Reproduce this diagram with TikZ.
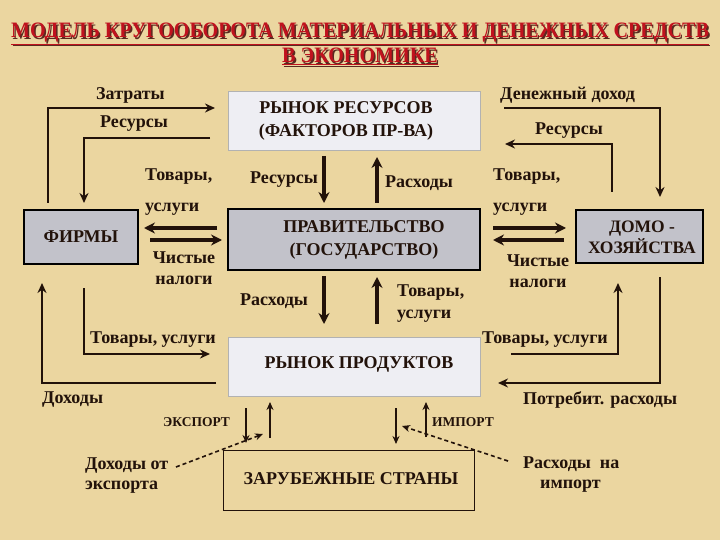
\documentclass[tikz,border=0pt]{standalone}
\usepackage{fontspec}
\setmainfont{Liberation Serif}
\usetikzlibrary{arrows.meta}
\definecolor{bg}{HTML}{EBD6A0}
\definecolor{ink}{HTML}{22120A}
\definecolor{titlered}{HTML}{C0121E}
\definecolor{titleshadow}{HTML}{5A2A20}
\definecolor{boxgray}{HTML}{C2C2CA}
\definecolor{boxlight}{HTML}{EEEEF3}
\begin{document}
\begin{tikzpicture}[x=1pt,y=-1pt,
  lbl/.style={font=\bfseries\fontsize{18}{20}\selectfont, text=ink, inner sep=0pt, anchor=west},
  slbl/.style={font=\bfseries\fontsize{13.5}{15}\selectfont, text=ink, inner sep=0pt, anchor=west},
  boxtxt/.style={font=\bfseries\fontsize{18}{23}\selectfont, text=ink, align=center, inner sep=0pt},
  graybox/.style={fill=boxgray, draw=black, line width=2.2pt, inner sep=0pt},
  lightbox/.style={fill=boxlight, draw=gray!60, line width=0.6pt, inner sep=0pt},
  openbox/.style={draw=ink, line width=1pt, inner sep=0pt},
  flow/.style={draw=ink, line width=2.4pt, -{Stealth[length=10pt,width=9pt]}},
  bigflow/.style={draw=ink, line width=3.6pt, -{Stealth[length=11pt,width=11pt]}},
  smallflow/.style={draw=ink, line width=1.8pt, -{Stealth[length=8pt,width=7pt]}},
  dotflow/.style={draw=ink, line width=1.6pt, dashed, dash pattern=on 4pt off 3pt, -{Stealth[length=8pt,width=7pt]}},
  titletxt/.style={font=\bfseries\fontsize{22}{25}\selectfont, align=center, inner sep=0pt},
]
\fill[bg] (0,0) rectangle (720,540);
\useasboundingbox (0,0) rectangle (720,540);

% title
\node[titletxt, text=titleshadow] at (361.5,45.5)
  {\scalebox{0.913}[1]{\underline{МОДЕЛЬ КРУГООБОРОТА МАТЕРИАЛЬНЫХ И ДЕНЕЖНЫХ СРЕДСТВ}}\\\scalebox{0.913}[1]{\underline{В ЭКОНОМИКЕ}}};
\node (title)[titletxt, text=titlered] at (360,44)
  {\scalebox{0.913}[1]{\underline{МОДЕЛЬ КРУГООБОРОТА МАТЕРИАЛЬНЫХ И ДЕНЕЖНЫХ СРЕДСТВ}}\\\scalebox{0.913}[1]{\underline{В ЭКОНОМИКЕ}}};

% boxes
\node (rr)[lightbox, minimum width=252pt, minimum height=59pt] at (354,120.5) {};
\node (rrt)[boxtxt] at (346,120.5) {РЫНОК РЕСУРСОВ\\(ФАКТОРОВ ПР-ВА)};
\node (firms)[graybox, minimum width=114pt, minimum height=54pt] at (81,237) {};
\node (firmst)[boxtxt] at (81,237) {ФИРМЫ};
\node (gov)[graybox, minimum width=252pt, minimum height=61pt] at (354,239.5) {};
\node (govt)[boxtxt] at (364,239.5) {ПРАВИТЕЛЬСТВО\\(ГОСУДАРСТВО)};
\node (hh)[graybox, minimum width=127pt, minimum height=53pt] at (639.5,236.5) {};
\node (hht)[boxtxt, font=\bfseries\fontsize{17.5}{21}\selectfont] at (642,237) {ДОМО -\\ХОЗЯЙСТВА};
\node (rp)[lightbox, minimum width=252pt, minimum height=59pt] at (354,366.5) {};
\node (rpt)[boxtxt] at (359,364) {РЫНОК ПРОДУКТОВ};
\node (fc)[openbox, minimum width=251pt, minimum height=60pt] at (348.5,480) {};
\node (fct)[boxtxt] at (351,479) {ЗАРУБЕЖНЫЕ СТРАНЫ};

% labels
\node (l1)[lbl] at (96,95) {Затраты};
\node (l2)[lbl] at (100,124) {Ресурсы};
\node (l3)[lbl] at (500,95) {Денежный доход};
\node (l4)[lbl] at (535,131) {Ресурсы};
\node (l5)[lbl] at (145,177) {Товары,};
\node (l6)[lbl] at (145,209) {услуги};
\node (l7)[lbl] at (493,177) {Товары,};
\node (l8)[lbl] at (493,209) {услуги};
\node (l9)[lbl] at (250,180) {Ресурсы};
\node (l10)[lbl] at (385,183) {Расходы};
\node (l11)[lbl, align=center, anchor=center, font=\bfseries\fontsize{18}{21}\selectfont] at (184,268) {Чистые\\налоги};
\node (l12)[lbl, align=center, anchor=center, font=\bfseries\fontsize{18}{21}\selectfont] at (538,271) {Чистые\\налоги};
\node (l13)[lbl] at (240,301) {Расходы};
\node (l14)[lbl] at (397,293) {Товары,};
\node (l15)[lbl] at (397,316) {услуги};
\node (l16)[lbl] at (90,340) {Товары, услуги};
\node (l17)[lbl] at (482,340) {Товары, услуги};
\node (l18)[lbl] at (42,400) {Доходы};
\node (l19)[lbl] at (523,400) {Потребит. расходы};
\node (l20)[slbl] at (163,422) {ЭКСПОРТ};
\node (l21)[slbl] at (432,422) {ИМПОРТ};
\node (l22)[lbl] at (85,466) {Доходы от};
\node (l23)[lbl] at (85,487) {экспорта};
\node (l24)[lbl] at (523,464) {Расходы\ \ на};
\node (l25)[lbl] at (540,486) {импорт};

% connector end points
\coordinate (a1) at (48,203);   \coordinate (a2) at (215,108);
\coordinate (b1) at (210,138);  \coordinate (b2) at (84,203);
\coordinate (c1) at (504,108);  \coordinate (c2) at (660,197);
\coordinate (d1) at (612,192);  \coordinate (d2) at (505,144);
\coordinate (e1) at (324,156);  \coordinate (e2) at (324,203);
\coordinate (f1) at (377,203);  \coordinate (f2) at (377,157);
\coordinate (g1) at (217,228);  \coordinate (g2) at (144,228);
\coordinate (h1) at (150,240);  \coordinate (h2) at (222,240);
\coordinate (i1) at (493,228);  \coordinate (i2) at (566,228);
\coordinate (j1) at (564,240);  \coordinate (j2) at (493,240);
\coordinate (k1) at (324,276);  \coordinate (k2) at (324,324);
\coordinate (m1) at (377,324);  \coordinate (m2) at (377,277);
\coordinate (n1) at (84,288);   \coordinate (n2) at (210,354);
\coordinate (o1) at (216,383);  \coordinate (o2) at (42,283);
\coordinate (p1) at (511,354);  \coordinate (p2) at (618,283);
\coordinate (q1) at (660,277);  \coordinate (q2) at (498,383);
\coordinate (r1) at (246,408);  \coordinate (r2) at (246,443);
\coordinate (s1) at (270,438);  \coordinate (s2) at (270,402);
\coordinate (t1) at (396,408);  \coordinate (t2) at (396,444);
\coordinate (u1) at (426,437);  \coordinate (u2) at (426,402);
\coordinate (v1) at (176,467);  \coordinate (v2) at (263,434);
\coordinate (w1) at (508,461);  \coordinate (w2) at (402,426);

% connectors
\draw[flow] (a1) |- (a2);
\draw[flow] (b1) -| (b2);
\draw[flow] (c1) -| (c2);
\draw[flow] (d1) |- (d2);
\draw[bigflow] (e1) -- (e2);
\draw[bigflow] (f1) -- (f2);
\draw[bigflow] (g1) -- (g2);
\draw[bigflow] (h1) -- (h2);
\draw[bigflow] (i1) -- (i2);
\draw[bigflow] (j1) -- (j2);
\draw[bigflow] (k1) -- (k2);
\draw[bigflow] (m1) -- (m2);
\draw[flow] (n1) |- (n2);
\draw[flow] (o1) -| (o2);
\draw[flow] (p1) -| (p2);
\draw[flow] (q1) |- (q2);
\draw[smallflow] (r1) -- (r2);
\draw[smallflow] (s1) -- (s2);
\draw[smallflow] (t1) -- (t2);
\draw[smallflow] (u1) -- (u2);
\draw[dotflow] (v1) -- (v2);
\draw[dotflow] (w1) -- (w2);
\end{tikzpicture}
\end{document}
